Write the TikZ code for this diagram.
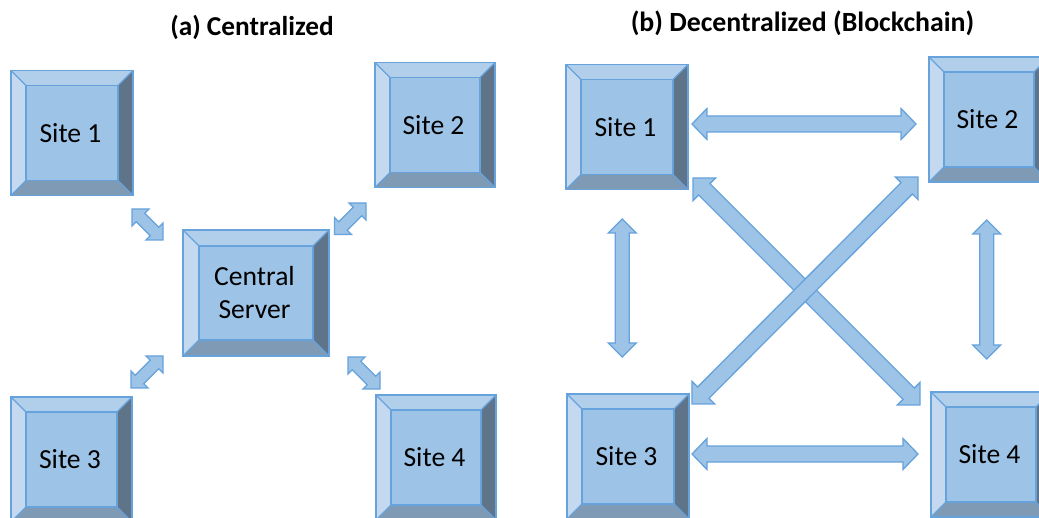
\documentclass[tikz,border=0pt]{standalone}
\usepackage{fontspec}
\setmainfont{Carlito}
\usetikzlibrary{calc}
\definecolor{face}{HTML}{9DC3E6}
\definecolor{edge}{HTML}{66A2DB}
\definecolor{ftop}{HTML}{B1CFEB}
\definecolor{fleft}{HTML}{C4D9EF}
\definecolor{fright}{HTML}{5F7489}
\definecolor{fbottom}{HTML}{7E9AB5}
\def\bevsize{15pt}
\newcommand{\nudge}{\hspace*{3pt}}
\tikzset{
  bevelsize/.store in=\bevsize,
  bevelbox/.style={draw=edge,line width=1.4pt,fill=face,inner sep=0pt,outer sep=0pt,
    font=\fontsize{27.6}{33}\selectfont,align=center,text=black,
    path picture={
      \coordinate (OA) at (path picture bounding box.north west);
      \coordinate (OB) at (path picture bounding box.north east);
      \coordinate (OC) at (path picture bounding box.south east);
      \coordinate (OD) at (path picture bounding box.south west);
      \coordinate (IA) at ([xshift=\bevsize,yshift=-\bevsize]OA);
      \coordinate (IB) at ([xshift=-\bevsize,yshift=-\bevsize]OB);
      \coordinate (IC) at ([xshift=-\bevsize,yshift=\bevsize]OC);
      \coordinate (ID) at ([xshift=\bevsize,yshift=\bevsize]OD);
      \fill[ftop] (OA)--(OB)--(IB)--(IA)--cycle;
      \fill[fright] (OB)--(OC)--(IC)--(IB)--cycle;
      \fill[fbottom] (OC)--(OD)--(ID)--(IC)--cycle;
      \fill[fleft] (OD)--(OA)--(IA)--(ID)--cycle;
      \draw[edge,line width=1.2pt] (IA)--(IB)--(IC)--(ID)--cycle;
      \draw[edge,line width=1.2pt] (OA)--(IA) (OB)--(IB) (OC)--(IC) (OD)--(ID);
    }},
  sitebox/.style={bevelbox,minimum width=120pt,minimum height=125pt},
  widesite/.style={bevelbox,minimum width=122pt,minimum height=125pt},
  serverbox/.style={bevelbox,bevelsize=16pt,minimum width=146pt,minimum height=126pt},
  titletext/.style={font=\fontsize{27.3}{31}\selectfont\bfseries,text=black,inner sep=0pt},
  blockarrow/.style={draw=edge,line width=1.3pt,fill=face,line join=miter},
}
% from, to, shaft half width, head half width, head length
\newcommand{\dblblock}[5]{%
  \coordinate (ha) at ($(#1)!#5!(#2)$);
  \coordinate (hb) at ($(#2)!#5!(#1)$);
  \draw[blockarrow] (#1)
    -- ($(ha)!#4!90:(#1)$) -- ($(ha)!#3!90:(#1)$)
    -- ($(hb)!#3!90:(#1)$) -- ($(hb)!#4!90:(#1)$)
    -- (#2)
    -- ($(hb)!#4!-90:(#1)$) -- ($(hb)!#3!-90:(#1)$)
    -- ($(ha)!#3!-90:(#1)$) -- ($(ha)!#4!-90:(#1)$)
    -- cycle;}
\begin{document}
\begin{tikzpicture}[x=1pt,y=-1pt]
\useasboundingbox (0,0) rectangle (1039,518);
\clip (0,0) rectangle (1039,518);
% titles
\node[titletext] (ta) at (252,27) {(a) Centralized};
\node[titletext] (tb) at (802.5,23) {\fontsize{27.8}{31}\selectfont (b) Decentralized (Blockchain)};
% panel a
\node[widesite] (as1) at (72,133) {Site 1\nudge};
\node[sitebox] (as2) at (435,125) {Site 2\nudge};
\begin{scope}[bevelsize=16pt]
\node[serverbox] (acs) at (256,293) {Central\nudge\\Server\nudge};
\end{scope}
\node[widesite,minimum width=121pt] (as3) at (71.5,459.5) {Site 3\nudge};
\node[sitebox] (as4) at (436,457.5) {Site 4\nudge};
% panel b
\node[widesite] (bs1) at (627,127) {Site 1\nudge};
\node[sitebox] (bs2) at (989,119.5) {Site 2\nudge};
\node[widesite] (bs3) at (628,456.5) {Site 3\nudge};
\node[sitebox] (bs4) at (991,454.5) {Site 4\nudge};
% connector ends
\coordinate (a1s) at (132,209); \coordinate (a1c) at (163,240);
\coordinate (a2s) at (366,203); \coordinate (a2c) at (334.5,234.5);
\coordinate (a3s) at (131,388); \coordinate (a3c) at (163,356);
\coordinate (a4s) at (380,389); \coordinate (a4c) at (348,357);
\coordinate (b12a) at (692,124); \coordinate (b12b) at (916,124);
\coordinate (b34a) at (692,454); \coordinate (b34b) at (918,454);
\coordinate (b13a) at (622.3,219); \coordinate (b13b) at (622.3,357);
\coordinate (b24a) at (986.7,220); \coordinate (b24b) at (986.7,359);
\coordinate (b14a) at (693,178); \coordinate (b14b) at (920,405);
\coordinate (b23a) at (918,177); \coordinate (b23b) at (692,404);
% small arrows
\dblblock{a1s}{a1c}{6pt}{12pt}{12pt}
\dblblock{a2s}{a2c}{6pt}{12pt}{12pt}
\dblblock{a3s}{a3c}{6pt}{12pt}{12pt}
\dblblock{a4s}{a4c}{6pt}{12pt}{12pt}
% large arrows
\dblblock{b14a}{b14b}{8pt}{16pt}{16pt}
\dblblock{b23a}{b23b}{8pt}{16pt}{16pt}
\dblblock{b12a}{b12b}{8pt}{15.5pt}{15pt}
\dblblock{b34a}{b34b}{8pt}{15.5pt}{15pt}
\dblblock{b13a}{b13b}{7pt}{14pt}{14pt}
\dblblock{b24a}{b24b}{7pt}{14pt}{14pt}
\end{tikzpicture}
\end{document}
